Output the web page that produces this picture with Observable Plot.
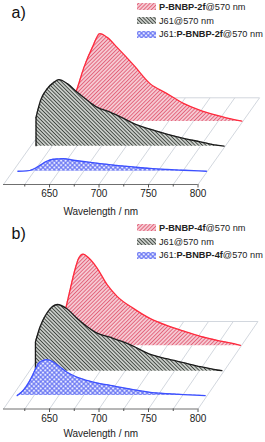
<!DOCTYPE html>
<html><head><meta charset="utf-8">
<script src="https://cdn.jsdelivr.net/npm/d3@7"></script>
<script src="https://cdn.jsdelivr.net/npm/@observablehq/plot@0.6"></script>
<style>
body{margin:0;background:#fff;font-family:"Liberation Sans",Arial,sans-serif;}
.panel{position:relative;width:265px;height:221px;overflow:hidden}
.legend{position:absolute;left:137px;top:0;font-size:9.2px;color:#222;}
.legend .row{display:flex;align-items:center;height:13.7px;white-space:nowrap}
.legend svg{margin-right:3px;flex:none}
</style></head><body>
<svg width="0" height="0" style="position:absolute"><defs>
<pattern id="hRed" patternUnits="userSpaceOnUse" width="2.7" height="2.7" patternTransform="rotate(45)">
<rect width="2.7" height="2.7" fill="#f9dde2"/><line x1="1.35" y1="0" x2="1.35" y2="2.7" stroke="#e2627a" stroke-width="1.2"/></pattern>
<pattern id="hBlack" patternUnits="userSpaceOnUse" width="2.6" height="2.6" patternTransform="rotate(-45)">
<rect width="2.6" height="2.6" fill="#e9ece9"/><line x1="1.3" y1="0" x2="1.3" y2="2.6" stroke="#3f453f" stroke-width="1.2"/></pattern>
<pattern id="hBlue" patternUnits="userSpaceOnUse" width="3.2" height="3.2" patternTransform="rotate(45)">
<rect width="3.2" height="3.2" fill="#e6e8ff"/><line x1="1.6" y1="0" x2="1.6" y2="3.2" stroke="#5b69f2" stroke-width="1"/><line x1="0" y1="1.6" x2="3.2" y2="1.6" stroke="#5b69f2" stroke-width="1"/></pattern>
</defs></svg>
<div id="root"></div>
<script>
// ---- data ----
const floorWl = [603.5, 625, 650, 675, 700, 725, 750, 775, 800];
const majorTicks = [650, 700, 750, 800];
const minorTicks = [625, 675, 725, 775];
const axisLabel = "Wavelength / nm";
const panelLabels = ["a)", "b)"];

// panel a
const redA_wl = [609, 615, 620, 625, 628, 632, 639.5, 648, 655.6, 663, 673, 690, 706, 723, 740, 757, 774, 790, 799];
const redA_I  = [0, 3, 8, 15, 21, 31, 54, 74, 87.7, 84, 74, 56, 38, 28, 18, 11, 6, 2, 0.3];
const blackA_wl = [609, 613.6, 620.4, 627, 632, 640.6, 650.7, 660.8, 670.9, 684.3, 697.8, 707.9, 725, 742, 758, 775, 789, 799];
const blackA_I  = [29, 46, 57.7, 64, 66.7, 62.7, 54, 46, 39, 34, 27.7, 22.7, 17, 12, 8, 4.5, 1.5, 0.2];
const blueA_wl = [608.5, 617.5, 624, 631, 637.7, 644.4, 654.5, 664.6, 678, 691.5, 725, 742, 759, 776, 799];
const blueA_I  = [0, 0.3, 2, 6, 10, 12, 12.7, 11, 9.3, 7.7, 4.3, 2.8, 1.8, 1, 0];

// panel b
const redB_wl = [609, 612, 617, 622.2, 627.3, 632.3, 635.7, 640, 645.8, 654.2, 664.3, 674.4, 691.2, 708, 725, 742, 758.6, 775.4, 792.3, 799];
const redB_I  = [0, 5, 18, 36, 57.6, 77.6, 87.6, 91.6, 87.6, 77.6, 61, 49.3, 37, 27, 20, 14.5, 9.3, 5.3, 2, 0.3];
const blackB_wl = [609.6, 614.1, 620.9, 626, 631.6, 641, 651.2, 661.3, 671.4, 684.8, 698.3, 708.4, 725, 742, 759, 776, 793, 798];
const blackB_I  = [29.3, 44, 57.7, 64, 66.7, 62.7, 53.3, 45, 38.3, 34, 29.3, 25, 17, 12.5, 8.5, 4.5, 1.2, 0.5];
const blueB_wl = [608, 614.2, 621, 626, 629.4, 634.4, 637.9, 644.6, 651.3, 658.1, 668.2, 678.3, 691.7, 701.8, 725, 742, 759, 776, 798];
const blueB_I  = [0, 5.3, 15.3, 25.3, 32, 35.3, 36, 33.6, 28.6, 23.6, 18.6, 15.3, 12, 10.3, 6, 3.3, 2, 1, 0];

const legendA = [["", "P-BNBP-2f", "@570 nm"], ["J61@570 nm", "", ""], ["J61:", "P-BNBP-2f", "@570 nm"]];
const legendB = [["", "P-BNBP-4f", "@570 nm"], ["J61@570 nm", "", ""], ["J61:", "P-BNBP-4f", "@570 nm"]];

// ---- styles / layout ----
const looks = [
  {fill: "url(#hRed)", stroke: "#ff2a3c"},
  {fill: "url(#hBlack)", stroke: "#1b1b1b"},
  {fill: "url(#hBlue)", stroke: "#3c50ff"}
];
const layouts = [
  {axisY: 184, DX: 62.2, DY: 86.7, depth: [0.728, 0.44, 0.153], labelDy: 27},
  {axisY: 187.5, DX: 60.6, DY: 87.5, depth: [0.724, 0.432, 0.153], labelDy: 24.5}
];

const zip = (w, v) => w.map((wl, i) => ({wl, I: v[i]}));
const panelsData = [
  {series: [zip(redA_wl, redA_I), zip(blackA_wl, blackA_I), zip(blueA_wl, blueA_I)], legend: legendA},
  {series: [zip(redB_wl, redB_I), zip(blackB_wl, blackB_I), zip(blueB_wl, blueB_I)], legend: legendB}
];

const root = document.getElementById("root");
panelsData.forEach((p, pi) => {
  const L = layouts[pi];
  const {DX, DY} = L;
  const marks = [
    Plot.link(floorWl, {x1: d => d, y1: () => 0, x2: d => d + DX, y2: () => DY, stroke: "#cdd2da", strokeWidth: 0.9}),
    Plot.link([floorWl], {x1: d => d[0] + DX, x2: d => d[d.length - 1] + DX, y1: () => DY, y2: () => DY, stroke: "#cdd2da", strokeWidth: 0.9}),
    Plot.ruleY([0], {stroke: "#6f6f6f", strokeWidth: 1}),
    Plot.axisX(majorTicks, {tickSize: 3.5, tickPadding: 2, label: null, stroke: "#555", fill: "#222", fontSize: 10}),
    Plot.axisX(minorTicks, {tickSize: 2.5, tickFormat: () => "", label: null, stroke: "#555"})
  ];
  p.series.forEach((data, si) => {
    const z = L.depth[si];
    const lk = looks[si];
    const X = d => d.wl + z * DX;
    marks.push(Plot.areaY(data, {x: X, y1: () => z * DY, y2: d => d.I + z * DY, fill: lk.fill, curve: "monotone-x"}));
    marks.push(Plot.lineY(data, {x: X, y: d => d.I + z * DY, stroke: lk.stroke, strokeWidth: 1.3, curve: "monotone-x"}));
    if (data[0].I > 1) {
      marks.push(Plot.link(data.slice(0, 1), {x1: X, x2: X, y1: () => z * DY, y2: d => d.I + z * DY, stroke: lk.stroke, strokeWidth: 1.3}));
    }
  });
  marks.push(Plot.text([axisLabel], {frameAnchor: "bottom", lineAnchor: "middle", dy: L.labelDy, fontSize: 10, fill: "#222"}));
  marks.push(Plot.text([panelLabels[pi]], {frameAnchor: "top-left", textAnchor: "start", lineAnchor: "middle", dx: 8, dy: 12, fontSize: 16, fill: "#111"}));

  const fig = Plot.plot({
    width: 265, height: 221,
    marginTop: 0, marginBottom: 221 - L.axisY, marginLeft: 3, marginRight: 67.5,
    x: {domain: [floorWl[0], floorWl[floorWl.length - 1]], axis: null},
    y: {domain: [0, L.axisY], axis: null},
    style: {fontFamily: '"Liberation Sans", Arial, sans-serif', background: "transparent", overflow: "visible"},
    marks
  });
  const div = document.createElement("div");
  div.className = "panel";
  div.appendChild(fig);
  const lg = document.createElement("div");
  lg.className = "legend";
  p.legend.forEach((parts, si) => {
    const row = document.createElement("div");
    row.className = "row";
    const sw = document.createElementNS("http://www.w3.org/2000/svg", "svg");
    sw.setAttribute("width", 19); sw.setAttribute("height", 7);
    const r = document.createElementNS("http://www.w3.org/2000/svg", "rect");
    r.setAttribute("width", 19); r.setAttribute("height", 7); r.setAttribute("fill", looks[si].fill);
    sw.appendChild(r);
    row.appendChild(sw);
    const t = document.createElement("span");
    t.appendChild(document.createTextNode(parts[0]));
    if (parts[1]) { const b = document.createElement("b"); b.textContent = parts[1]; t.appendChild(b); }
    if (parts[2]) t.appendChild(document.createTextNode(parts[2]));
    row.appendChild(t);
    lg.appendChild(row);
  });
  div.appendChild(lg);
  root.appendChild(div);
});
</script>
</body></html>
